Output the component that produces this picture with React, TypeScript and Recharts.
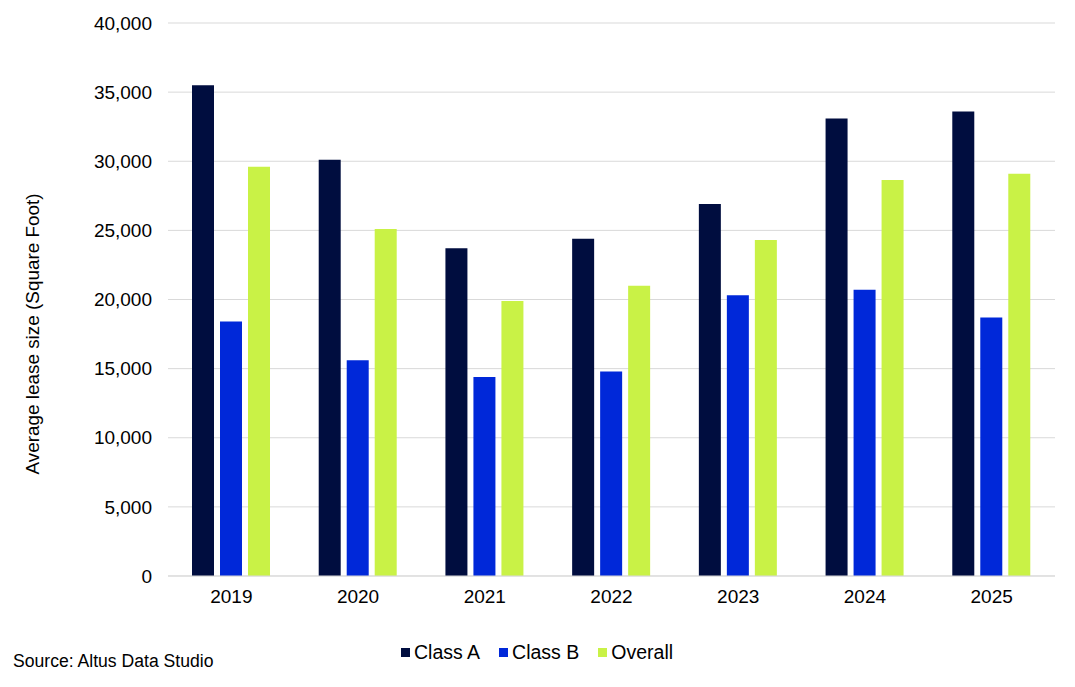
import React from 'react';
import { BarChart, Bar, XAxis, YAxis, CartesianGrid } from 'recharts';

const years = ['2019', '2020', '2021', '2022', '2023', '2024', '2025'];
const classA = [35500, 30100, 23700, 24400, 26900, 33100, 33600];
const classB = [18400, 15600, 14400, 14800, 20300, 20700, 18700];
const overall = [29600, 25100, 19900, 21000, 24300, 28650, 29100];
const yTicks = [0, 5000, 10000, 15000, 20000, 25000, 30000, 35000, 40000];

const series = [
  { key: 'classA', name: 'Class A', color: '#000D3F' },
  { key: 'classB', name: 'Class B', color: '#0028D9' },
  { key: 'overall', name: 'Overall', color: '#C9F246' },
];

const data = years.map((year, i) => ({
  year,
  classA: classA[i],
  classB: classB[i],
  overall: overall[i],
}));

const font = 'Arial, "Liberation Sans", sans-serif';

const YLabel = () => {
  const x = 39;
  const y = 334;
  return (
    <text
      x={x}
      y={y}
      transform={`rotate(-90 ${x} ${y})`}
      textAnchor="middle"
      fontSize={18.9}
      fontFamily={font}
      fill="#000"
    >
      Average lease size (Square Foot)
    </text>
  );
};

export default function App() {
  return (
    <div style={{ position: 'absolute', left: 0, top: 0, width: 1075, height: 687, background: '#fff', fontFamily: font }}>
      <BarChart
        width={1075}
        height={687}
        data={data}
        margin={{ top: 23, right: 20, bottom: 81, left: 0 }}
        barSize={22}
        barGap={6}
      >
        <CartesianGrid vertical={false} stroke="#D9D9D9" strokeWidth={1} />
        <XAxis
          dataKey="year"
          axisLine={{ stroke: '#D9D9D9' }}
          tickLine={false}
          tickSize={0}
          tickMargin={14}
          height={30}
          tick={{ fontSize: 19, fill: '#000', fontFamily: font }}
        />
        <YAxis
          width={168}
          domain={[0, 40000]}
          ticks={yTicks}
          axisLine={false}
          tickLine={false}
          tickSize={0}
          tickMargin={16}
          tickFormatter={(v: number) => v.toLocaleString('en-US')}
          tick={{ fontSize: 19, fill: '#000', fontFamily: font }}
          label={YLabel}
        />
        {series.map((s) => (
          <Bar key={s.key} dataKey={s.key} name={s.name} fill={s.color} isAnimationActive={false} />
        ))}
      </BarChart>

      <div
        style={{
          position: 'absolute',
          left: 401,
          top: 641,
          display: 'flex',
          alignItems: 'center',
          fontSize: 19.5,
          color: '#000',
          lineHeight: '22px',
        }}
      >
        {series.map((s, i) => (
          <div key={s.key} style={{ display: 'flex', alignItems: 'center', marginRight: i < series.length - 1 ? 19 : 0 }}>
            <span style={{ display: 'inline-block', width: 9, height: 9, background: s.color, marginRight: 4 }} />
            <span>{s.name}</span>
          </div>
        ))}
      </div>

      <div style={{ position: 'absolute', left: 13, top: 650, fontSize: 17.6, color: '#000', lineHeight: '22px' }}>
        Source: Altus Data Studio
      </div>
    </div>
  );
}
